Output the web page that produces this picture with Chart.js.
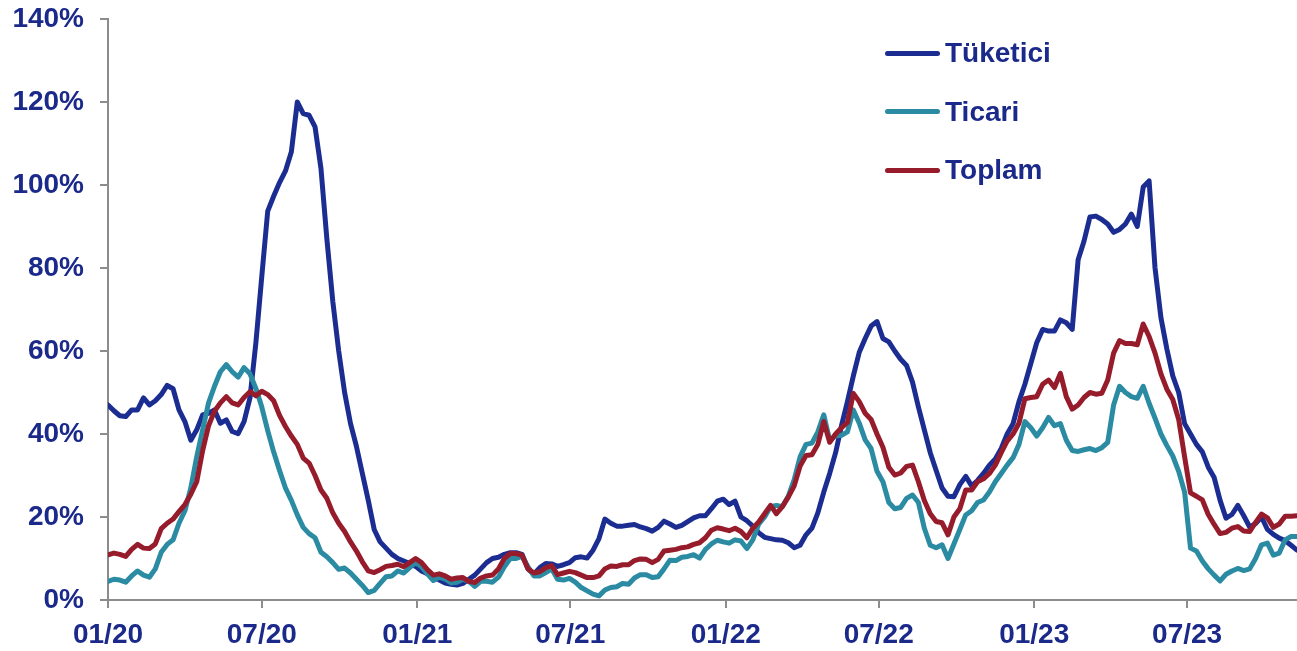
<!DOCTYPE html>
<html>
<head>
<meta charset="utf-8">
<script src="https://cdn.jsdelivr.net/npm/chart.js@4"></script>
<style>
  html, body { margin: 0; padding: 0; background: #fff; }
  #wrap { position: relative; width: 1297px; height: 651px; }
  #legend { position: absolute; left: 885px; top: 24px; font: bold 28px "Liberation Sans", Arial, sans-serif; color: #1b2a8a; }
  .leg-row { display: flex; align-items: center; height: 58.5px; }
  .leg-line { width: 55px; height: 5px; border-radius: 3px; margin-right: 5px; }
</style>
</head>
<body>
<div id="wrap">
  <canvas id="lineChart" width="1297" height="651"></canvas>
  <div id="legend"></div>
</div>
<script>
// ===== DATA =====
// weekly observations, week 0 = first week of Jan 2020
const tickWeeks = [0, 26, 52.29, 78.14, 104.43, 130.29, 156.57, 182.43];
const tickLabels = ['01/20', '07/20', '01/21', '07/21', '01/22', '07/22', '01/23', '07/23'];

const seriesLabels = ['Tüketici', 'Ticari', 'Toplam'];
const seriesColors = ['#1c2d92', '#2a8ba3', '#961c2c'];

const tuketici = [
  47.0, 45.6, 44.4, 44.2, 45.8, 45.8, 48.7, 47.0, 48.0, 49.5, 51.7, 50.9, 45.8, 43.0, 38.5, 41.0, 44.6, 45.0, 45.8, 42.6,
  43.4, 40.6, 40.1, 43.0, 48.7, 62.0, 78.0, 93.7, 97.3, 100.6, 103.4, 108.0, 120.0, 117.2, 116.8,
  114.0, 104.0, 87.0, 72.0, 60.0, 50.0, 42.5, 37.0, 30.5, 24.0, 17.0, 14.0, 12.5, 11.0, 10.0, 9.4, 8.8, 8.1, 7.0, 6.3,
  5.5, 4.8, 4.1, 3.8, 3.6, 4.0, 5.0, 6.0, 7.5, 9.0, 10.0, 10.3, 11.0, 11.4,
  11.4, 11.0, 7.5, 6.2, 7.8, 8.8, 8.7, 8.1, 8.5, 9.0, 10.2, 10.4, 10.1, 12.0, 14.8, 19.5, 18.5, 17.8, 17.8, 18.0,
  18.2, 17.6, 17.2, 16.6, 17.5, 19.0, 18.3, 17.5, 18.0, 18.9, 19.8, 20.3, 20.3, 22.0,
  23.8, 24.3, 23.0, 23.8, 20.0, 19.1, 17.8, 16.2, 15.1, 14.8, 14.5, 14.4, 13.8, 12.6, 13.2, 15.7, 17.3, 21.0, 26.0, 30.5,
  35.5, 42.0, 47.8, 54.0, 59.7, 63.0, 66.0, 67.1, 63.0, 62.2, 60.0, 58.0, 56.5, 52.5,
  46.5, 41.0, 35.5, 31.2, 27.0, 25.0, 24.9, 27.8, 29.8, 27.5, 28.8, 30.5, 32.5, 34.0, 36.5, 40.0, 42.5, 47.8, 52.0, 57.0,
  62.0, 65.2, 64.8, 64.8, 67.5, 66.8, 65.2, 82.0, 86.5, 92.3, 92.5, 91.7, 90.6,
  88.6, 89.3, 90.6, 93.0, 90.0, 99.5, 101.0, 80.0, 68.0, 60.5, 54.0, 50.0, 42.5, 40.0, 37.5, 35.7, 32.0, 29.5, 24.0, 19.7,
  20.6, 22.8, 20.3, 17.6, 18.4, 20.0, 17.0, 15.8, 14.9, 14.3, 13.2, 12.0
];

const ticari = [
  4.5, 5.0, 4.8, 4.3, 5.8, 7.0, 6.0, 5.5, 7.5, 11.5, 13.4, 14.5, 18.5, 21.5, 27.0, 34.5, 41.0, 47.5, 51.5, 55.0,
  56.7, 55.0, 53.7, 56.0, 54.5, 51.0, 46.5, 40.8, 35.7, 31.2, 27.0, 24.0, 20.5, 17.5, 16.0,
  15.0, 11.5, 10.4, 9.0, 7.4, 7.7, 6.5, 5.0, 3.5, 1.8, 2.3, 4.0, 5.6, 5.8, 7.0, 6.5, 7.8, 9.0, 8.0, 6.3,
  4.7, 5.5, 5.0, 4.1, 4.3, 5.0, 4.5, 3.3, 4.5, 4.5, 4.3, 5.5, 8.0, 10.0,
  10.0, 10.5, 8.0, 5.8, 5.8, 6.6, 7.5, 5.0, 4.8, 5.2, 4.3, 3.0, 2.2, 1.4, 1.0, 2.4, 3.0, 3.2, 4.0, 3.8,
  5.3, 6.1, 6.1, 5.4, 5.6, 7.5, 9.6, 9.5, 10.3, 10.5, 10.9, 10.1, 12.2, 13.5,
  14.4, 14.0, 13.7, 14.5, 14.2, 12.4, 14.5, 18.3, 20.0, 22.5, 22.8, 22.5, 25.0, 29.0, 34.5, 37.5, 37.8, 40.5, 44.6, 38.5,
  39.5, 39.7, 40.5, 45.8, 42.6, 38.6, 36.5, 31.0, 28.5, 23.5, 22.0, 22.3, 24.5, 25.3,
  23.5, 17.3, 13.2, 12.6, 13.3, 10.0, 13.5, 17.0, 20.5, 21.5, 23.5, 24.1, 26.0, 28.5, 30.5, 32.5, 34.3, 37.5, 43.0, 41.5,
  39.5, 41.5, 44.0, 42.0, 42.5, 38.5, 36.0, 35.8, 36.2, 36.5, 36.0, 36.7, 38.0,
  47.0, 51.5, 50.0, 49.0, 48.6, 51.5, 47.4, 43.8, 40.0, 37.2, 34.7, 31.0, 26.0, 12.5, 11.8, 9.4, 7.5, 6.0, 4.6, 6.2,
  7.0, 7.6, 7.1, 7.5, 10.0, 13.3, 13.7, 10.8, 11.3, 14.5, 15.3, 15.3
];

const toplam = [
  10.9, 11.3, 11.0, 10.5, 12.2, 13.4, 12.5, 12.4, 13.5, 17.2, 18.5, 19.5, 21.3, 23.0, 25.5, 28.5, 36.0, 42.0, 45.5, 47.5,
  49.0, 47.5, 47.0, 48.8, 50.2, 49.2, 50.3, 49.5, 48.0, 44.5, 41.8, 39.5, 37.5, 34.2, 33.0,
  30.0, 26.5, 24.5, 21.0, 18.5, 16.5, 14.0, 11.8, 9.2, 7.0, 6.6, 7.3, 8.1, 8.3, 8.6, 8.0, 9.0, 10.0, 9.0, 7.3,
  6.0, 6.3, 5.8, 5.0, 5.3, 5.4, 4.5, 4.2, 5.3, 5.8, 6.0, 7.5, 10.0, 11.2,
  11.2, 10.8, 7.5, 6.5, 6.8, 7.8, 8.3, 6.1, 6.5, 6.9, 6.6, 6.0, 5.4, 5.4, 5.8, 7.5, 8.2, 8.1, 8.5, 8.5,
  9.5, 9.9, 9.8, 9.0, 9.8, 11.8, 12.0, 12.2, 12.6, 12.8, 13.4, 13.8, 15.0, 16.8,
  17.4, 17.1, 16.7, 17.3, 16.5, 15.0, 17.3, 18.8, 20.8, 22.8, 20.8, 22.5, 24.8, 27.5, 32.3, 34.8, 35.0, 37.5, 43.0, 38.0,
  40.0, 41.5, 42.8, 49.8, 47.8, 45.0, 43.5, 40.0, 36.8, 32.0, 30.1, 30.6, 32.2, 32.5,
  28.5, 24.0, 20.8, 18.9, 18.6, 15.7, 20.0, 22.0, 26.5, 26.5, 28.5, 29.2, 30.5, 32.5, 35.5, 38.3, 40.0, 42.6, 48.5, 48.8,
  49.0, 52.0, 53.0, 51.2, 54.6, 49.0, 46.0, 47.0, 48.8, 50.0, 49.6, 49.8, 53.0,
  59.5, 62.5, 61.8, 61.8, 61.5, 66.5, 63.5, 59.5, 54.5, 50.8, 48.3, 43.5, 34.5, 25.8, 25.0, 24.1, 20.6, 18.2, 16.0, 16.3,
  17.3, 17.7, 16.6, 16.5, 18.7, 20.7, 19.8, 17.5, 18.3, 20.2, 20.2, 20.3
];

// ===== CHART =====
const FONT = { family: '"Liberation Sans", Arial, sans-serif', size: 28, weight: 'bold' };
const TEXT = '#1b2a8a';
const AXIS = '#8c8c8c';

const toPoints = (arr) => arr.map((v, i) => ({ x: i, y: v }));
const seriesData = [tuketici, ticari, toplam];

const data = {
  datasets: seriesLabels.map((label, i) => ({
    label,
    data: toPoints(seriesData[i]),
    borderColor: seriesColors[i],
    borderWidth: 5,
    borderJoinStyle: 'round',
    borderCapStyle: 'round',
    pointRadius: 0,
    tension: 0,
    order: 2 - i
  }))
};

const config = {
  type: 'line',
  data,
  options: {
    responsive: false,
    animation: false,
    layout: { padding: { top: 19, right: 0, left: 0, bottom: 0 } },
    plugins: { legend: { display: false }, tooltip: { enabled: false } },
    scales: {
      x: {
        type: 'linear',
        min: 0,
        max: 201,
        afterBuildTicks: (scale) => { scale.ticks = tickWeeks.map(v => ({ value: v })); },
        afterFit: (scale) => { scale.height = 51; },
        ticks: {
          color: TEXT,
          font: FONT,
          padding: 10,
          maxRotation: 0,
          autoSkip: false,
          callback: (value, index) => tickLabels[index]
        },
        grid: { drawOnChartArea: false, drawTicks: true, tickLength: 8, color: AXIS, lineWidth: 2 },
        border: { display: true, color: AXIS, width: 2 }
      },
      y: {
        min: 0,
        max: 140,
        afterFit: (scale) => {
          scale.width = 108;
          scale.paddingTop = 0;   // let the top label sit in the layout padding
          scale.paddingBottom = 0;
        },
        ticks: {
          stepSize: 20,
          color: TEXT,
          font: FONT,
          padding: 16,
          callback: (value) => value + '%'
        },
        grid: { drawOnChartArea: false, drawTicks: true, tickLength: 8, color: AXIS, lineWidth: 2 },
        border: { display: true, color: AXIS, width: 2 }
      }
    }
  }
};

// ===== LEGEND =====
function buildLegend() {
  const box = document.getElementById('legend');
  seriesLabels.forEach((label, i) => {
    const row = document.createElement('div');
    row.className = 'leg-row';
    row.innerHTML = `<span class="leg-line" style="background:${seriesColors[i]}"></span><span>${label}</span>`;
    box.appendChild(row);
  });
}

new Chart(document.getElementById('lineChart'), config);
buildLegend();
</script>
</body>
</html>
